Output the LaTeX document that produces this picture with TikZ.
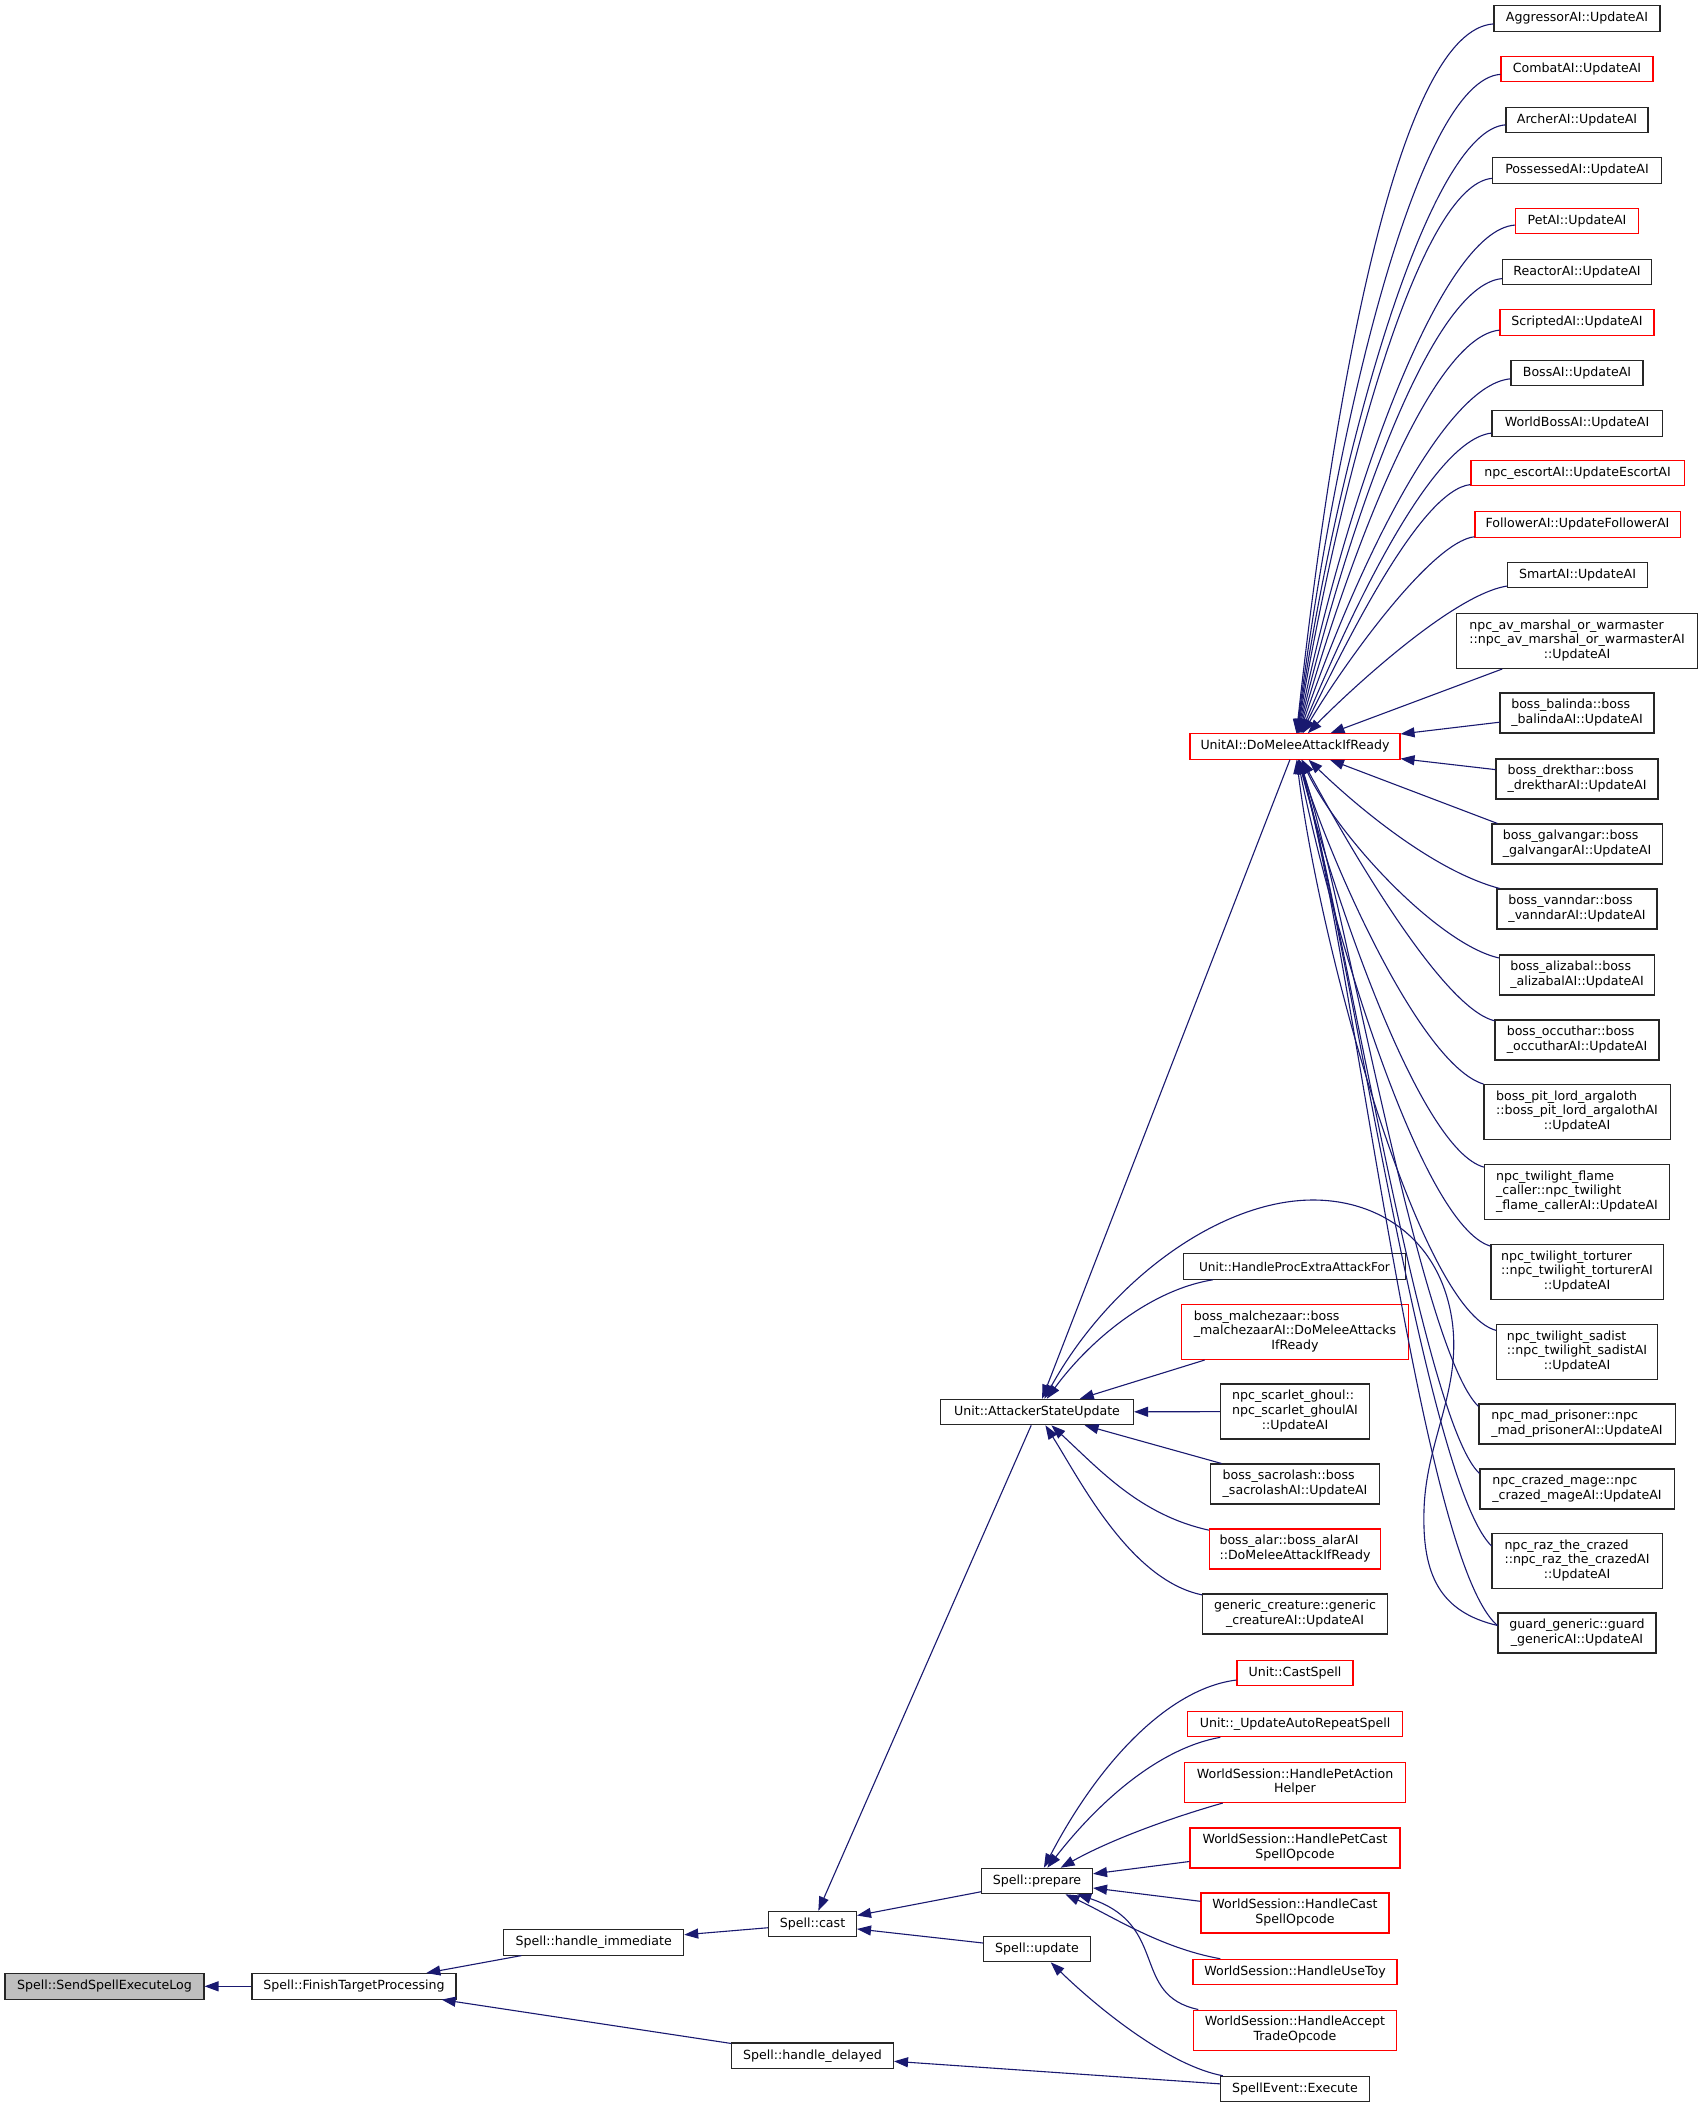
\documentclass[tikz,border=0pt]{standalone}
\usepackage{fontspec}
\setmainfont{DejaVu Sans}
\usetikzlibrary{arrows.meta}
\definecolor{edgec}{RGB}{25,25,112}
\newcommand\mlab[2]{\begin{tabular}{@{}l@{}}#1\\\multicolumn{1}{@{}c@{}}{#2}\end{tabular}}
\begin{document}
\begin{tikzpicture}[x=1pt,y=-1pt,
  fnbase/.style={draw=black!85, fill=white, line width=1.05pt, inner sep=0pt,
    font=\fontsize{12.6pt}{14.6pt}\selectfont, minimum height=25.5pt},
  fn/.style={fnbase, minimum width=#1},
  fnr/.style={fnbase, draw=red, minimum width=#1},
  two/.style={minimum height=40pt},
  three/.style={minimum height=55pt},
  edge/.style={draw=edgec, line width=1.1pt, -{Triangle[length=14pt,width=10pt]}}
]
\fill[white] (0,0) rectangle (1704,2108);
\useasboundingbox (0,0) rectangle (1704,2108);

% right column
\node[fn=166pt] (agg) at (1577,18.5) {AggressorAI::UpdateAI};
\node[fnr=152pt] (combat) at (1577,69) {CombatAI::UpdateAI};
\node[fn=142pt] (archer) at (1577,120) {ArcherAI::UpdateAI};
\node[fn=169pt] (possessed) at (1577,170.5) {PossessedAI::UpdateAI};
\node[fnr=123pt] (pet) at (1577,221) {PetAI::UpdateAI};
\node[fn=149pt] (reactor) at (1577,272) {ReactorAI::UpdateAI};
\node[fnr=154pt] (scripted) at (1577,322.5) {ScriptedAI::UpdateAI};
\node[fn=132pt] (bossai) at (1577,373) {BossAI::UpdateAI};
\node[fn=170pt] (worldboss) at (1577,423.5) {WorldBossAI::UpdateAI};
\node[fnr=213pt] (escort) at (1577.5,473) {npc\_escortAI::UpdateEscortAI};
\node[fnr=205pt] (follower) at (1577.5,524.5) {FollowerAI::UpdateFollowerAI};
\node[fn=140pt] (smart) at (1577.5,575) {SmartAI::UpdateAI};
\node[fn=241pt,three] (marshal) at (1577,641) {\mlab{npc\_av\_marshal\_or\_warmaster\\::npc\_av\_marshal\_or\_warmasterAI}{::UpdateAI}};
\node[fn=154pt,two] (balinda) at (1577,713) {\mlab{boss\_balinda::boss}{\_balindaAI::UpdateAI}};
\node[fn=162pt,two] (drekthar) at (1577,779) {\mlab{boss\_drekthar::boss}{\_drektharAI::UpdateAI}};
\node[fn=170pt,two] (galvangar) at (1577,844) {\mlab{boss\_galvangar::boss}{\_galvangarAI::UpdateAI}};
\node[fn=160pt,two] (vanndar) at (1577,909) {\mlab{boss\_vanndar::boss}{\_vanndarAI::UpdateAI}};
\node[fn=155pt,two] (alizabal) at (1577,975) {\mlab{boss\_alizabal::boss}{\_alizabalAI::UpdateAI}};
\node[fn=164pt,two] (occuthar) at (1577,1040) {\mlab{boss\_occuthar::boss}{\_occutharAI::UpdateAI}};
\node[fn=186pt,three] (pitlord) at (1577,1112) {\mlab{boss\_pit\_lord\_argaloth\\::boss\_pit\_lord\_argalothAI}{::UpdateAI}};
\node[fn=185pt,three] (flame) at (1577,1192) {\mlab{npc\_twilight\_flame\\\_caller::npc\_twilight}{\_flame\_callerAI::UpdateAI}};
\node[fn=172pt,three] (torturer) at (1577,1272) {\mlab{npc\_twilight\_torturer\\::npc\_twilight\_torturerAI}{::UpdateAI}};
\node[fn=161pt,three] (sadist) at (1577,1352) {\mlab{npc\_twilight\_sadist\\::npc\_twilight\_sadistAI}{::UpdateAI}};
\node[fn=196pt,two] (madprisoner) at (1577,1424) {\mlab{npc\_mad\_prisoner::npc}{\_mad\_prisonerAI::UpdateAI}};
\node[fn=194pt,two] (crazed) at (1577,1489) {\mlab{npc\_crazed\_mage::npc}{\_crazed\_mageAI::UpdateAI}};
\node[fn=170pt,three] (raz) at (1577,1561) {\mlab{npc\_raz\_the\_crazed\\::npc\_raz\_the\_crazedAI}{::UpdateAI}};
\node[fn=158pt,two] (guard) at (1577,1633) {\mlab{guard\_generic::guard}{\_genericAI::UpdateAI}};

% middle column
\node[fnr=210pt] (unitai) at (1295,746.5) {UnitAI::DoMeleeAttackIfReady};
\node[fn=222pt, font=\fontsize{12.1pt}{14.6pt}\selectfont] (handleproc) at (1294.5,1266.5) {Unit::HandleProcExtraAttackFor};
\node[fnr=227pt,three] (malchezaar) at (1295,1332) {\mlab{boss\_malchezaar::boss\\\_malchezaarAI::DoMeleeAttacks}{IfReady}};
\node[fn=149pt,three] (scarlet) at (1295,1411.5) {\mlab{npc\_scarlet\_ghoul::\\npc\_scarlet\_ghoulAI}{::UpdateAI}};
\node[fn=169pt,two] (sacrolash) at (1295,1484) {\mlab{boss\_sacrolash::boss}{\_sacrolashAI::UpdateAI}};
\node[fnr=171pt,two] (alar) at (1295,1549) {\mlab{boss\_alar::boss\_alarAI}{::DoMeleeAttackIfReady}};
\node[fn=185pt,two] (generic) at (1295,1614) {\mlab{generic\_creature::generic}{\_creatureAI::UpdateAI}};
\node[fnr=116pt] (castspell) at (1295,1673) {Unit::CastSpell};
\node[fnr=215pt] (autorepeat) at (1295,1724) {Unit::\_UpdateAutoRepeatSpell};
\node[fnr=221pt,two] (petaction) at (1295,1782.5) {\mlab{WorldSession::HandlePetAction}{Helper}};
\node[fnr=210pt,two] (petcast) at (1295,1848) {\mlab{WorldSession::HandlePetCast}{SpellOpcode}};
\node[fnr=188pt,two] (castop) at (1295,1913) {\mlab{WorldSession::HandleCast}{SpellOpcode}};
\node[fnr=204pt] (usetoy) at (1295,1972) {WorldSession::HandleUseToy};
\node[fnr=203pt,two] (accept) at (1295,2030) {\mlab{WorldSession::HandleAccept}{TradeOpcode}};
\node[fn=149pt] (execute) at (1295,2089) {SpellEvent::Execute};

% left part
\node[fn=193pt] (asu) at (1037,1412) {Unit::AttackerStateUpdate};
\node[fn=111pt] (prepare) at (1037,1881) {Spell::prepare};
\node[fn=107pt] (update) at (1037,1949) {Spell::update};
\node[fn=88pt] (cast) at (812.5,1924) {Spell::cast};
\node[fn=180pt] (immediate) at (593.7,1942.3) {Spell::handle\_immediate};
\node[fn=162pt] (delayed) at (812.5,2055.7) {Spell::handle\_delayed};
\node[fn=204pt] (finish) at (354,1986.3) {Spell::FinishTargetProcessing};
\node[fn=199pt, fill=black!25] (sendlog) at (104.5,1986.3) {Spell::SendSpellExecuteLog};

% edges into UnitAI::DoMeleeAttackIfReady (from above)
\draw[edge] (agg) .. controls (1400,30) and (1335,380) .. (unitai);
\draw[edge] (combat) .. controls (1420,80) and (1338,410) .. (unitai);
\draw[edge] (archer) .. controls (1430,130) and (1340,440) .. (unitai);
\draw[edge] (possessed) .. controls (1420,185) and (1342,470) .. (unitai);
\draw[edge] (pet) .. controls (1440,230) and (1345,500) .. (unitai);
\draw[edge] (reactor) .. controls (1430,285) and (1347,530) .. (unitai);
\draw[edge] (scripted) .. controls (1430,337) and (1348,560) .. (unitai);
\draw[edge] (bossai) .. controls (1440,385) and (1348,590) .. (unitai);
\draw[edge] (worldboss) .. controls (1430,440) and (1348,620) .. (unitai);
\draw[edge] (escort) .. controls (1420,490) and (1345,645) .. (unitai);
\draw[edge] (follower) .. controls (1430,542) and (1340,670) .. (unitai);
\draw[edge] (smart) .. controls (1450,595) and (1340,700) .. (unitai);
\draw[edge] (marshal) -- (unitai);
\draw[edge] (balinda) -- (unitai);
% edges into UnitAI (from below)
\draw[edge] (drekthar) -- (unitai);
\draw[edge] ([xshift=6pt]galvangar.north west) -- (unitai);
\draw[edge] (vanndar) .. controls (1430,870) and (1350,800) .. (unitai);
\draw[edge] (alizabal) .. controls (1440,945) and (1340,840) .. (unitai);
\draw[edge] (occuthar) .. controls (1440,1008) and (1340,830) .. (unitai);
\draw[edge] (pitlord) .. controls (1420,1065) and (1330,860) .. (unitai);
\draw[edge] (flame) .. controls (1420,1150) and (1335,900) .. (unitai);
\draw[edge] (torturer) .. controls (1420,1225) and (1330,920) .. (unitai);
\draw[edge] (sadist) .. controls (1420,1310) and (1320,950) .. (unitai);
\draw[edge] ([yshift=-3pt]madprisoner.north west) .. controls (1420,1350) and (1345,900) .. (unitai);
\draw[edge] ([yshift=-5pt]crazed.north west) .. controls (1422,1420) and (1345,920) .. (unitai);
\draw[edge] ([yshift=-13pt]raz.north west) .. controls (1425,1480) and (1350,940) .. (unitai);
\draw[edge] ([yshift=-13pt]guard.north west) .. controls (1420,1560) and (1355,960) .. (unitai);

% edges into Unit::AttackerStateUpdate
\draw[edge] (unitai) -- (asu);
\draw[edge] ([yshift=-13pt]guard.north west) .. controls (1440,1612) and (1422,1575) .. (1424,1510)
   .. controls (1426,1440) and (1462,1390) .. (1452,1320)
   .. controls (1440,1240) and (1380,1200) .. (1313,1200)
   .. controls (1220,1200) and (1110,1280) .. (asu);
\draw[edge] (handleproc) .. controls (1150,1290) and (1090,1340) .. (asu);
\draw[edge] (malchezaar) -- (asu);
\draw[edge] (scarlet) -- (asu);
\draw[edge] (sacrolash) -- (asu);
\draw[edge] (alar) .. controls (1140,1515) and (1100,1470) .. (asu);
\draw[edge] (generic) .. controls (1130,1580) and (1080,1480) .. (asu);

% edges into Spell::prepare
\draw[edge] (castspell) .. controls (1170,1688) and (1100,1760) .. (prepare);
\draw[edge] (autorepeat) .. controls (1160,1748) and (1100,1800) .. (prepare);
\draw[edge] (petaction) .. controls (1170,1818) and (1110,1840) .. (prepare);
\draw[edge] (petcast) -- (prepare);
\draw[edge] (castop) -- (prepare);
\draw[edge] (usetoy) .. controls (1160,1948) and (1110,1915) .. (prepare);
\draw[edge] (accept) .. controls (1130,1995) and (1170,1925) .. (prepare);

% remaining edges
\draw[edge] (execute) .. controls (1170,2066) and (1100,2010) .. (update);
\draw[edge] (execute) -- (delayed);
\draw[edge] (asu) -- (cast);
\draw[edge] (prepare) -- (cast);
\draw[edge] (update) -- (cast);
\draw[edge] (cast) -- (immediate);
\draw[edge] (immediate) -- (finish);
\draw[edge] (delayed) -- (finish);
\draw[edge] (finish) -- (sendlog);
\end{tikzpicture}
\end{document}
